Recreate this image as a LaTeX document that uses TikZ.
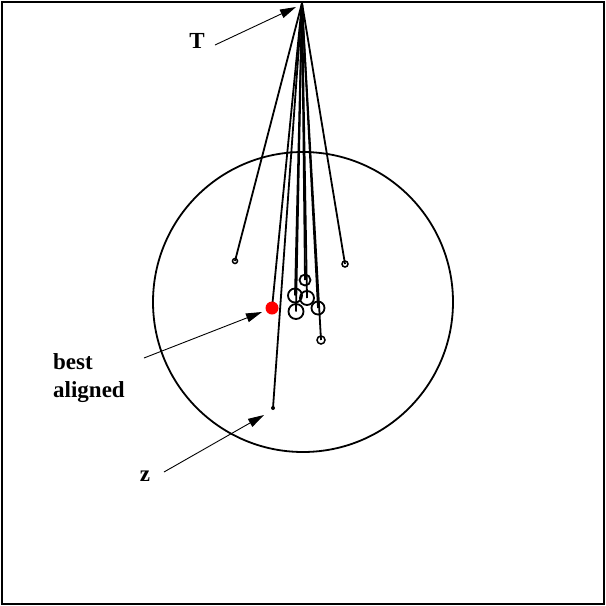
\documentclass[tikz,border=0pt]{standalone}
\usepackage{fontspec}
\setmainfont{Liberation Serif}
\usetikzlibrary{arrows.meta}
\tikzset{
  ray/.style={line width=1.8pt},
  ptc/.style={circle,draw,line width=1.5pt,inner sep=0pt,fill=white},
  ring/.style={circle,draw,line width=1.8pt,inner sep=0pt},
  lbl/.style={font=\fontsize{23}{27.5}\selectfont\bfseries,align=left,inner sep=0pt},
  pointer/.style={line width=0.9pt,-{Triangle[length=16pt,width=9pt]}},
}
\begin{document}
\begin{tikzpicture}[x=1pt,y=-1pt]
\useasboundingbox (0,0) rectangle (606,606);
\draw[line width=1.8pt] (2,2) rectangle (604,604);
\draw[line width=1.8pt] (303,302) circle[radius=150];
\coordinate (T) at (302,3);
% rays
\node[ptc,minimum size=5pt] (p1) at (235,261) {};
\node[ptc,minimum size=6pt] (p2) at (345,264) {};
\node[ptc,minimum size=8pt] (p3) at (321,340) {};
\node[circle,fill=black,inner sep=0pt,minimum size=4pt] (zp) at (273,408) {};
\foreach \n in {p1,p2,p3} \draw[ray] (T) -- (\n.center);
\draw[ray] (T) -- (zp.center);
\draw[ray] (T) -- (272,308) coordinate (bp0);
% cluster
\coordinate (c1) at (305,280);
\coordinate (c2) at (295,295.5);
\coordinate (c3) at (307,298);
\coordinate (c4) at (296,311.5);
\coordinate (c5) at (318,308);
\foreach \c in {c1,c2,c3,c4,c5} \draw[ray] (T) -- (\c);
\node[ring,minimum size=11pt] (k1) at (c1) {};
\node[ring,minimum size=14pt] (k2) at (c2) {};
\node[ring,minimum size=14pt] (k3) at (c3) {};
\node[ring,minimum size=15pt] (k4) at (c4) {};
\node[ring,minimum size=13pt] (k5) at (c5) {};
\node[circle,fill=red,inner sep=0pt,minimum size=13pt] (best) at (bp0) {};
% labels
\node[lbl] (lT) at (197,41) {T};
\node[lbl,anchor=west] (lB) at (53,378) {best\\aligned};
\node[lbl] (lZ) at (145,476) {z};
\coordinate (aT) at (296,7);
\coordinate (aB) at (262,312);
\coordinate (aZ) at (264,415);
\draw[pointer] (215,45) -- (aT);
\draw[pointer] (144,358) -- (aB);
\draw[pointer] (164,472) -- (aZ);
\end{tikzpicture}
\end{document}
